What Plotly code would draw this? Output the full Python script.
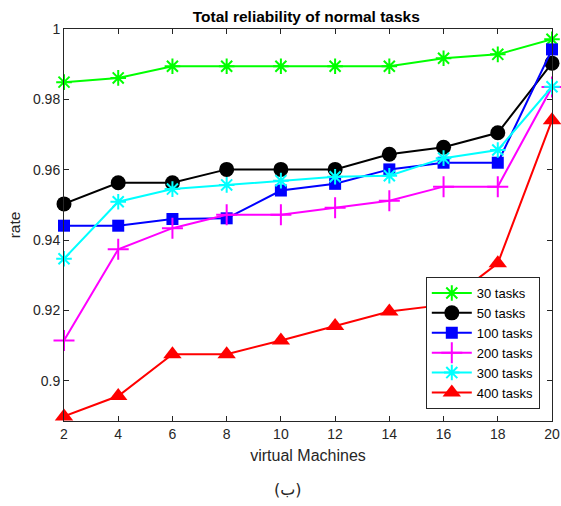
import plotly.graph_objects as go

machines = [2, 4, 6, 8, 10, 12, 14, 16, 18, 20]
tasks_30 = [0.9849, 0.9861, 0.9894, 0.9894, 0.9894, 0.9894, 0.9894, 0.9917, 0.9928, 0.9971]
tasks_50 = [0.9503, 0.9563, 0.9563, 0.9601, 0.9601, 0.9601, 0.9644, 0.9664, 0.9705, 0.9903]
tasks_100 = [0.9441, 0.9441, 0.9460, 0.9462, 0.9541, 0.9560, 0.9601, 0.9620, 0.9620, 0.9942]
tasks_200 = [0.9115, 0.9374, 0.9434, 0.9472, 0.9472, 0.9492, 0.9512, 0.9552, 0.9552, 0.9835]
tasks_300 = [0.9347, 0.9509, 0.9545, 0.9557, 0.9569, 0.9580, 0.9583, 0.9633, 0.9656, 0.9836]
tasks_400 = [0.8899, 0.8957, 0.9076, 0.9076, 0.9115, 0.9156, 0.9197, 0.9216, 0.9334, 0.9741]
y_ticks = [0.9, 0.92, 0.94, 0.96, 0.98, 1.0]
y_tick_labels = ["0.9", "0.92", "0.94", "0.96", "0.98", "1"]

series = [
    ("30 tasks", tasks_30, "#00ff00", "asterisk-open", 13, 2),
    ("50 tasks", tasks_50, "#000000", "circle", 15, 0),
    ("100 tasks", tasks_100, "#0000ff", "square", 12, 0),
    ("200 tasks", tasks_200, "#ff00ff", "cross-thin-open", 15, 2),
    ("300 tasks", tasks_300, "#00ffff", "asterisk-open", 13, 2),
    ("400 tasks", tasks_400, "#ff0000", "triangle-up", 16, 0),
]

fig = go.Figure()
for name, vals, color, sym, size, lw in series:
    fig.add_trace(go.Scatter(
        x=machines, y=vals, name=name, mode="lines+markers",
        line=dict(color=color, width=2),
        marker=dict(symbol=sym, size=size, color=color,
                    line=dict(color=color, width=lw)),
        cliponaxis=False,
    ))

FONT = "Liberation Sans, Arial"
axis_common = dict(
    showline=True, linecolor="#262626", linewidth=1, mirror="ticks",
    ticks="inside", ticklen=5, tickcolor="#262626",
    showgrid=False, zeroline=False, ticklabeloverflow="allow", automargin=False,
    tickfont=dict(family=FONT, size=14, color="#262626"),
)

fig.update_layout(
    width=561, height=506,
    margin=dict(l=64, r=9, t=29, b=85),
    paper_bgcolor="white", plot_bgcolor="white",
    title=dict(text="<b>Total reliability of normal tasks</b>", x=0.546, xanchor="center",
               y=0.967, yanchor="middle",
               font=dict(family=FONT, size=15.5, color="#000000")),
    xaxis=dict(range=[2, 20], tickvals=machines, **axis_common,
               title=dict(text="virtual Machines", standoff=9,
                          font=dict(family=FONT, size=16, color="#262626"))),
    yaxis=dict(range=[0.8886, 1.0], tickvals=y_ticks, ticktext=y_tick_labels, **axis_common,
               title=dict(text="rate", standoff=8,
                          font=dict(family=FONT, size=15.5, color="#262626"))),
    legend=dict(x=0.975, y=0.0306, xanchor="right", yanchor="bottom",
                bgcolor="white", bordercolor="#262626", borderwidth=1,
                font=dict(family=FONT, size=13, color="#000000"),
                tracegroupgap=0, itemwidth=40),
    showlegend=True,
)

fig.add_annotation(text="(ب)", x=0.46, y=-0.176, xref="paper", yref="paper",
                   showarrow=False, yanchor="middle",
                   font=dict(family="DejaVu Sans, Noto Sans", size=16, color="#262626"))

fig.write_html("out.html", config={"displayModeBar": False},
               post_script="document.body.style.margin='0';document.body.style.overflow='hidden';")
